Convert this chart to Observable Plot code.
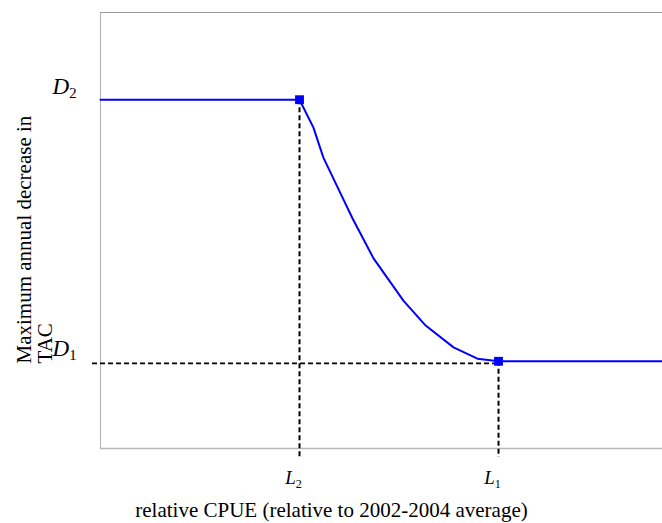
<!DOCTYPE html>
<html>
<head>
<meta charset="utf-8">
<script src="https://cdn.jsdelivr.net/npm/d3@7"></script>
<script src="https://cdn.jsdelivr.net/npm/@observablehq/plot@0.6"></script>
<style>
  html, body { margin: 0; padding: 0; background: #fff; }
  svg { display: block; }
</style>
</head>
<body>
<div id="chart"></div>
<script>
// ---- data (abstract units: relative CPUE on x, max annual decrease on y) ----
const xTickValues = [0.5, 1.0];          // L2, L1
const xTickLabels = ["L2", "L1"];
const yTickValues = [0.2, 0.8];          // D1, D2
const yTickLabels = ["D1", "D2"];
const curveX = [0, 0.5, 0.535, 0.56, 0.603, 0.633, 0.686, 0.761, 0.817, 0.887, 0.947, 1.0, 1.412];
const curveY = [0.8, 0.8, 0.736, 0.667, 0.585, 0.528, 0.436, 0.339, 0.282, 0.232, 0.206, 0.2, 0.2];
const markerX = [0.5, 1.0];
const markerY = [0.8, 0.2];
const xTitle = "relative CPUE (relative to 2002-2004 average)";
const yTitleLines = ["Maximum annual decrease in", "TAC"];

const curve = curveX.map((x, i) => ({x, y: curveY[i]}));
const markers = markerX.map((x, i) => ({x, y: markerY[i]}));
const xDomain = [0, 1.412];
const yDomain = [0, 1];

const blue = "#0000ff";
const dash = "5,3";

const plot = Plot.plot({
  width: 662,
  height: 523,
  marginLeft: 100,
  marginRight: 0,
  marginTop: 12,
  marginBottom: 75,
  style: {fontFamily: "'Liberation Serif', 'Times New Roman', serif", background: "#fff", color: "#000"},
  x: {domain: xDomain},
  y: {domain: yDomain},
  marks: [
    // frame (left, bottom, top)
    Plot.ruleX([xDomain[0]], {stroke: "#b8b8b8", strokeWidth: 1.2}),
    Plot.ruleY([yDomain[0]], {stroke: "#b8b8b8", strokeWidth: 1.5}),
    Plot.ruleY([yDomain[1]], {stroke: "#9a9a9a", strokeWidth: 1.2}),
    // dashed guides
    Plot.ruleX(markers, {x: "x", y1: "y", y2: yDomain[0], insetBottom: -9, stroke: "#000", strokeWidth: 2, strokeDasharray: dash}),
    Plot.ruleY([yTickValues[0]], {x1: xDomain[0], x2: xTickValues[1], insetLeft: -8, dy: 2, stroke: "#000", strokeWidth: 1.8, strokeDasharray: dash}),
    // curve
    Plot.line(curve, {x: "x", y: "y", stroke: blue, strokeWidth: 2}),
    Plot.dot(markers, {x: "x", y: "y", symbol: "square", r: 5, fill: blue, stroke: "none"}),
    // axes
    Plot.axisX(xTickValues, {tickSize: 0, tickPadding: 22, fontSize: 19, dx: -6,
      tickFormat: d => xTickLabels[xTickValues.indexOf(d)], label: null}),
    Plot.axisY(yTickValues, {tickSize: 0, tickPadding: 24, fontSize: 23, dy: -13,
      tickFormat: d => yTickLabels[yTickValues.indexOf(d)], label: null}),
    // titles
    Plot.text([xTitle], {frameAnchor: "bottom", dx: -50, dy: 62, lineAnchor: "middle", fontSize: 21, fill: "#000"}),
    Plot.text([yTitleLines[0]], {frameAnchor: "bottom-left", rotate: -90, textAnchor: "start", lineAnchor: "middle", dx: -76, dy: -85, fontSize: 21, fill: "#000"}),
    Plot.text([yTitleLines[1]], {frameAnchor: "bottom-left", rotate: -90, textAnchor: "start", lineAnchor: "middle", dx: -55, dy: -85, fontSize: 21, fill: "#000"})
  ]
});

// italic letter + upright subscript digit for the tick labels
function subscriptify(sel) {
  plot.querySelectorAll(sel).forEach(t => {
    const s = t.textContent;
    if (!/^[A-Z]\d$/.test(s)) return;
    t.textContent = "";
    const ns = "http://www.w3.org/2000/svg";
    const a = document.createElementNS(ns, "tspan");
    a.setAttribute("font-style", "italic");
    a.textContent = s[0];
    const b = document.createElementNS(ns, "tspan");
    b.setAttribute("font-size", "0.64em");
    b.setAttribute("dy", "0.3em");
    b.textContent = s[1];
    t.appendChild(a);
    t.appendChild(b);
  });
}
subscriptify('g[aria-label="x-axis tick label"] text');
subscriptify('g[aria-label="y-axis tick label"] text');

document.getElementById("chart").appendChild(plot);
</script>
</body>
</html>
